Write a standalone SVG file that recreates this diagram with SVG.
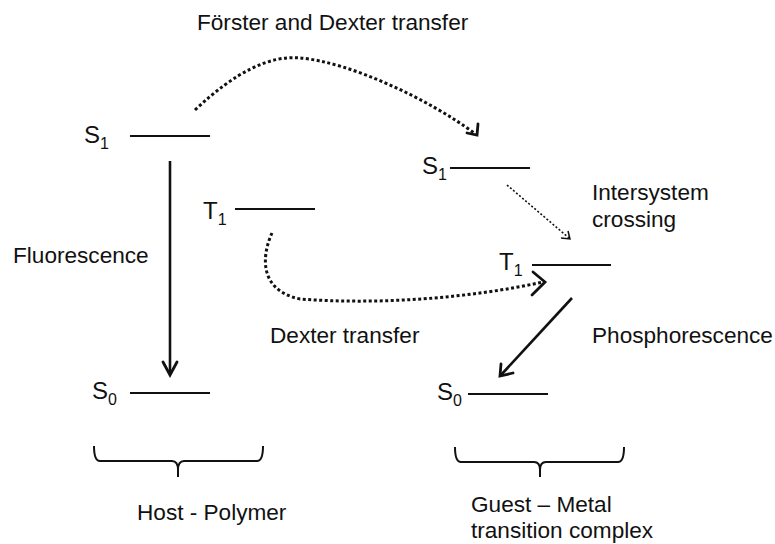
<svg xmlns="http://www.w3.org/2000/svg" width="775" height="544" viewBox="0 0 775 544">
<style>
text{font-family:"Liberation Sans",Arial,sans-serif;fill:#111;}
.t{font-size:22.6px;}
.lbl{font-size:24px;}
.sub{font-size:16px;}
.lvl{stroke:#111;stroke-width:2.2;fill:none;}
.sol{stroke:#111;stroke-width:2.6;fill:none;}
.dot{stroke:#111;stroke-width:3;stroke-dasharray:3 2.5;fill:none;}
.dotthin{stroke:#111;stroke-width:1.6;stroke-dasharray:2 2;fill:none;}
.head{stroke:#111;stroke-width:2.8;fill:none;stroke-linecap:round;stroke-linejoin:miter;}
.headthin{stroke:#111;stroke-width:1.5;fill:none;}
.brace{stroke:#111;stroke-width:2;fill:none;}
</style>
<rect width="775" height="544" fill="#fff"/>

<g id="host-S1">
<text class="lbl" x="84" y="143">S<tspan class="sub" dy="6">1</tspan></text>
<line class="lvl" x1="130" y1="136" x2="210" y2="136"/>
</g>
<g id="host-T1">
<text class="lbl" x="203" y="219">T<tspan class="sub" dy="6">1</tspan></text>
<line class="lvl" x1="235" y1="209" x2="315" y2="209"/>
</g>
<g id="host-S0">
<text class="lbl" x="92" y="399">S<tspan class="sub" dy="6">0</tspan></text>
<line class="lvl" x1="130" y1="393" x2="210" y2="393"/>
</g>
<g id="guest-S1">
<text class="lbl" x="422" y="174">S<tspan class="sub" dy="6">1</tspan></text>
<line class="lvl" x1="450" y1="168" x2="530" y2="168"/>
</g>
<g id="guest-T1">
<text class="lbl" x="499" y="270">T<tspan class="sub" dy="6">1</tspan></text>
<line class="lvl" x1="532" y1="265" x2="611" y2="265"/>
</g>
<g id="guest-S0">
<text class="lbl" x="437" y="400">S<tspan class="sub" dy="6">0</tspan></text>
<line class="lvl" x1="468" y1="394" x2="548" y2="394"/>
</g>

<g id="host-brace">
<path class="brace" d="M94,446 Q94,461 100,461 L172,461 Q178,461 178,470 L178,477 M178,470 Q178,461 184,461 L257,461 Q263,461 263,446"/>
<text class="t" x="137" y="520">Host - Polymer</text>
</g>
<g id="guest-brace">
<path class="brace" d="M455,447 Q455,462 461,462 L534,462 Q540,462 540,470 L540,477 M540,470 Q540,462 546,462 L618,462 Q624,462 624,447"/>
<text class="t" x="471" y="512">Guest – Metal</text>
<text class="t" x="471" y="538">transition complex</text>
</g>

<g id="labels">
<text class="t" x="197" y="30">Förster and Dexter transfer</text>
<text class="t" x="13" y="263">Fluorescence</text>
<text class="t" x="592" y="200">Intersystem</text>
<text class="t" x="592" y="227">crossing</text>
<text class="t" x="270" y="343">Dexter transfer</text>
<text class="t" x="592" y="343">Phosphorescence</text>
</g>

<g id="connectors">
<line class="sol" x1="170" y1="161" x2="170" y2="374"/>
<path class="head" d="M163,362 L170,375 L177,362"/>

<path class="dot" d="M195,110 C235,72 270,55 300,58 C350,62 430,100 474,133"/>
<path class="head" d="M478,124 L477,135 L467,133"/>

<path class="dotthin" d="M507,185 L569,238"/>
<path class="headthin" d="M561,238 L570,239 L568,231"/>

<path class="dot" d="M272,233 C262,255 258,290 300,299 C380,305 470,298 543,282"/>
<path class="head" d="M533,272 L545,282 L532,295"/>

<line class="sol" x1="572" y1="298" x2="501" y2="375"/>
<path class="head" d="M501,364 L500,376 L513,373"/>
</g>
</svg>
